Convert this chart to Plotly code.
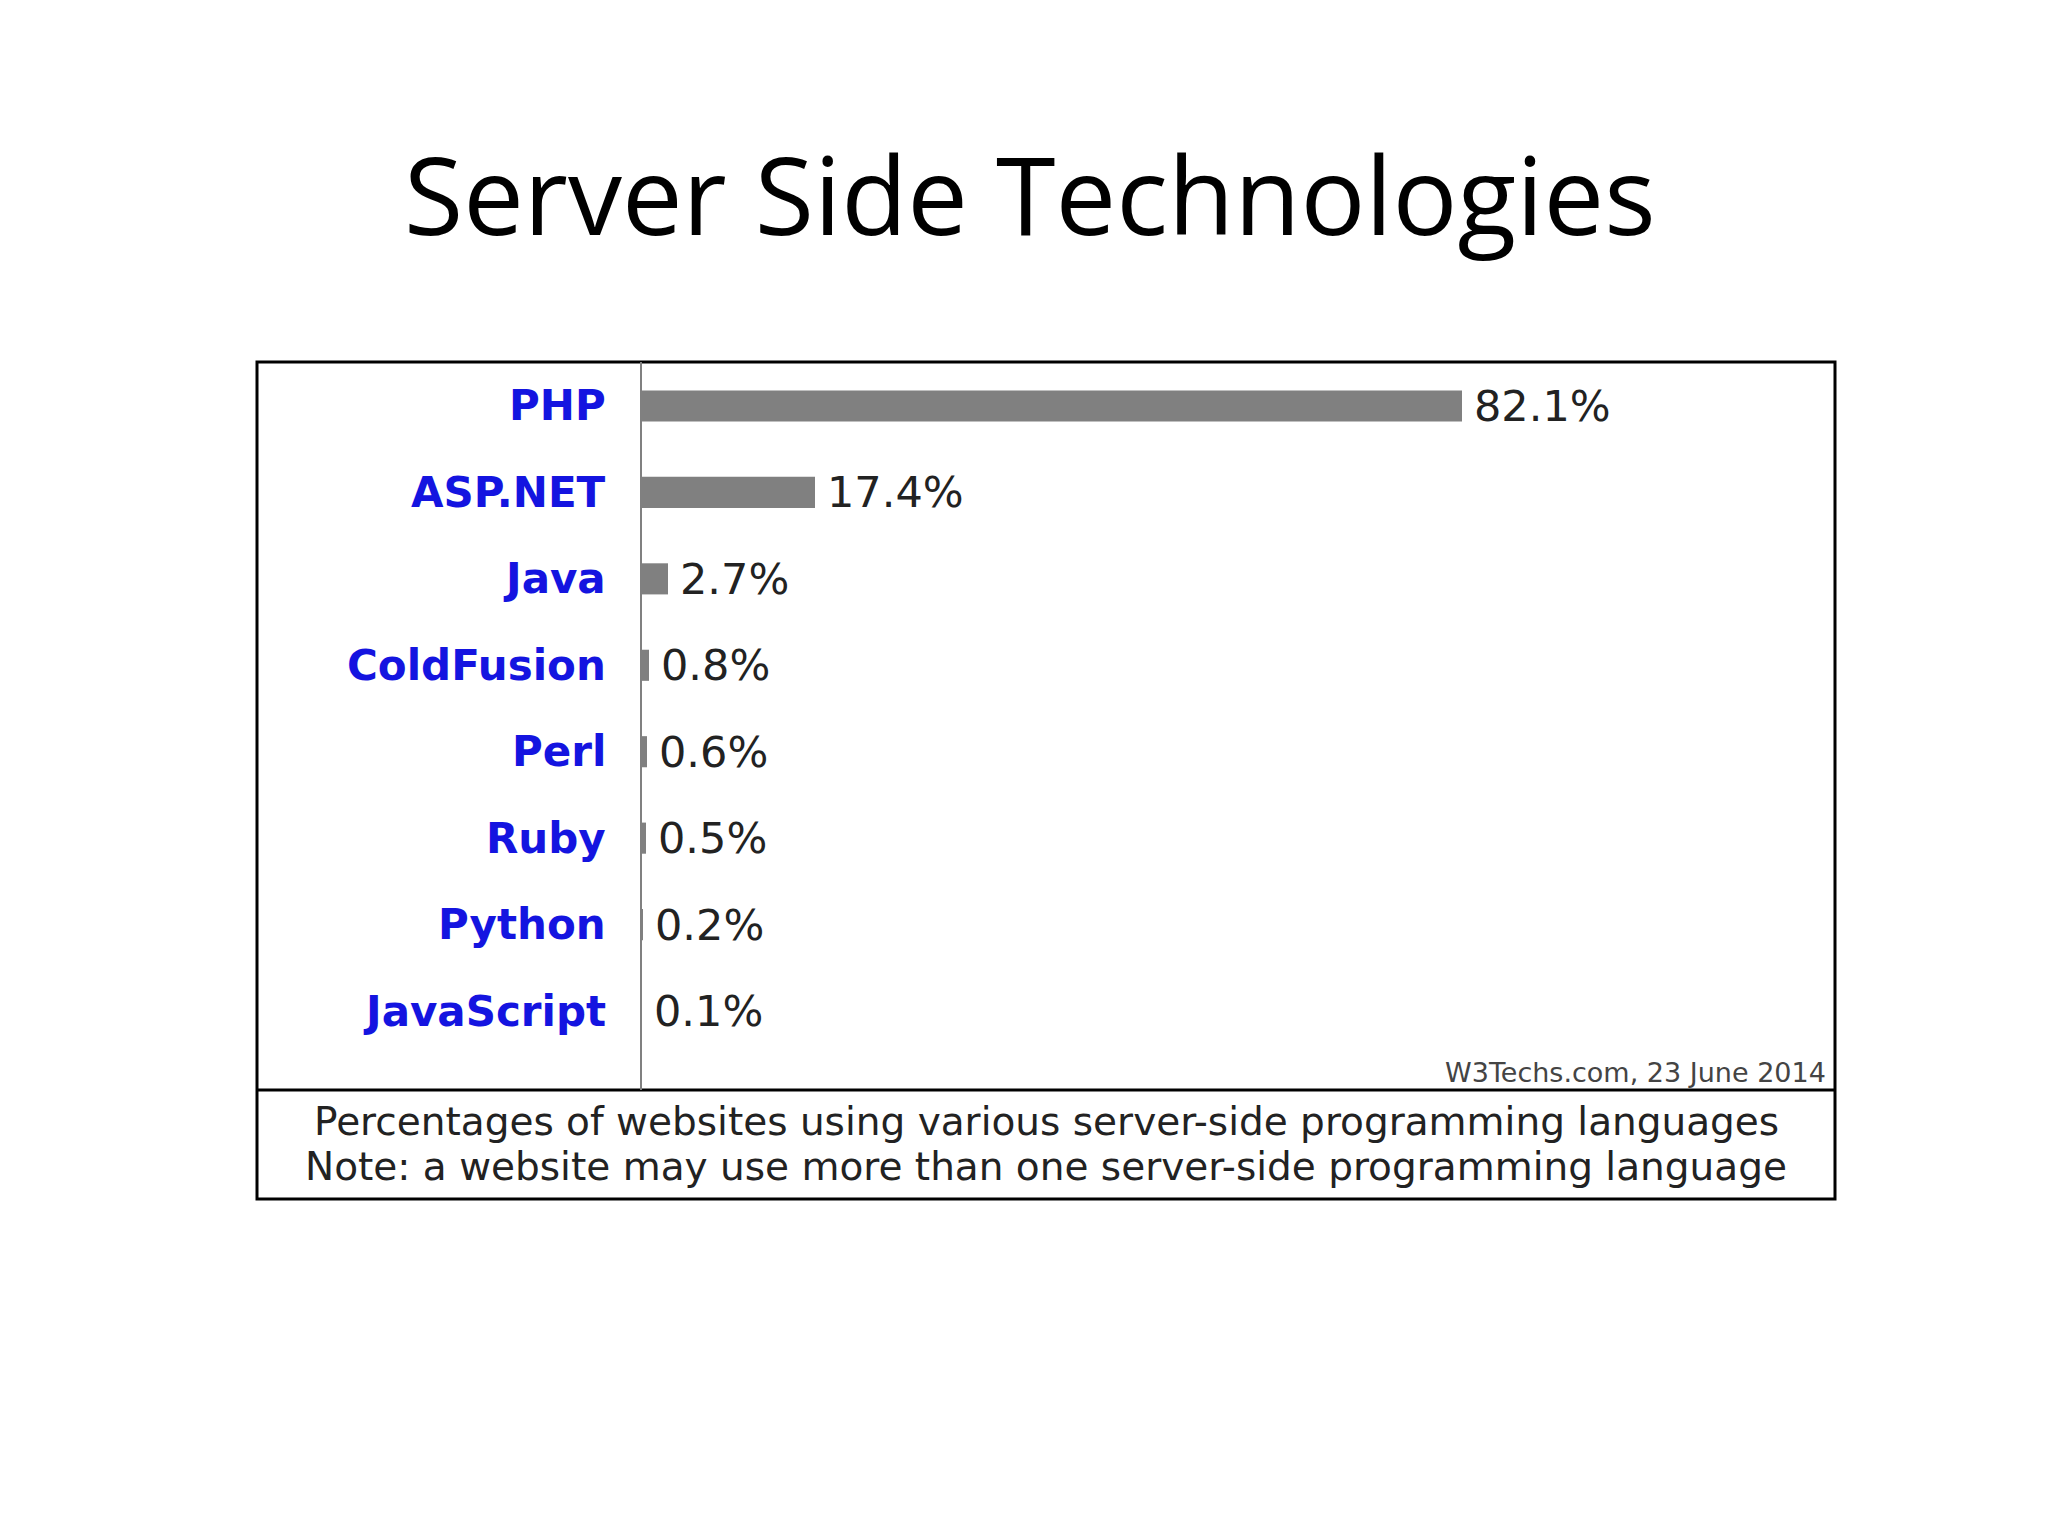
import plotly.graph_objects as go

# data
languages = ["PHP", "ASP.NET", "Java", "ColdFusion", "Perl", "Ruby", "Python", "JavaScript"]
shares = [82.1, 17.4, 2.7, 0.8, 0.6, 0.5, 0.2, 0.1]
value_labels = ["82.1%", "17.4%", "2.7%", "0.8%", "0.6%", "0.5%", "0.2%", "0.1%"]

W, H = 2048, 1536

def px(x):
    return (x - 8) / W

def py(y):
    return 1 - (y - 8) / H

box_l, box_r, box_t, box_b = 257, 1835, 362, 1199
divider = 1090
axis_x = 641
pos = list(range(len(languages)))

fig = go.Figure()
fig.add_trace(go.Bar(
    x=shares, y=pos, orientation="h", width=0.36,
    marker=dict(color="#808080", line=dict(width=0)),
    hoverinfo="skip",
))

for i, lang in enumerate(languages):
    fig.add_annotation(x=px(608), xref="paper", y=i, yref="y", text="<b>" + lang + "</b>",
                       showarrow=False, xanchor="right", yanchor="middle",
                       font=dict(family="DejaVu Sans", size=42, color="#1414e0"))
    fig.add_annotation(x=shares[i], xref="x", y=i, yref="y", text=value_labels[i],
                       showarrow=False, xanchor="left", yanchor="middle", xshift=10,
                       font=dict(family="DejaVu Sans", size=43, color="#222222"))

fig.add_annotation(x=px(1828), y=py(1072), xref="paper", yref="paper", text="W3Techs.com, 23 June 2014",
                   showarrow=False, xanchor="right", yanchor="middle",
                   font=dict(family="DejaVu Sans", size=27, color="#444444"))
fig.add_annotation(x=px(1046), y=py(1121), xref="paper", yref="paper",
                   text="Percentages of websites using various server-side programming languages",
                   showarrow=False, xanchor="center", yanchor="middle",
                   font=dict(family="DejaVu Sans", size=39, color="#222222"))
fig.add_annotation(x=px(1046), y=py(1166), xref="paper", yref="paper",
                   text="Note: a website may use more than one server-side programming language",
                   showarrow=False, xanchor="center", yanchor="middle",
                   font=dict(family="DejaVu Sans", size=39, color="#222222"))
fig.add_annotation(x=px(1030), y=py(193), xref="paper", yref="paper", text="Server Side Technologies",
                   showarrow=False, xanchor="center", yanchor="middle",
                   font=dict(family="Open Sans", size=108, color="#000000"))

fig.add_shape(type="rect", xref="paper", yref="paper", x0=px(box_l), x1=px(box_r),
              y0=py(box_b), y1=py(box_t), line=dict(color="black", width=3))
fig.add_shape(type="line", xref="paper", yref="paper", x0=px(box_l), x1=px(box_r),
              y0=py(divider), y1=py(divider), line=dict(color="black", width=3))
fig.add_shape(type="line", xref="paper", yref="paper", x0=px(axis_x), x1=px(axis_x),
              y0=py(divider), y1=py(box_t), line=dict(color="#808080", width=2))

fig.update_layout(
    width=W, height=H, margin=dict(l=0, r=0, t=0, b=0),
    paper_bgcolor="white", plot_bgcolor="white", showlegend=False,
    xaxis=dict(domain=[px(axis_x), px(box_r)], range=[0, (box_r - axis_x) / 10.0],
               visible=False, fixedrange=True),
    yaxis=dict(domain=[py(divider), py(box_t)], range=[7.914, -0.509],
               visible=False, fixedrange=True),
)

fig.write_html("out.html")
